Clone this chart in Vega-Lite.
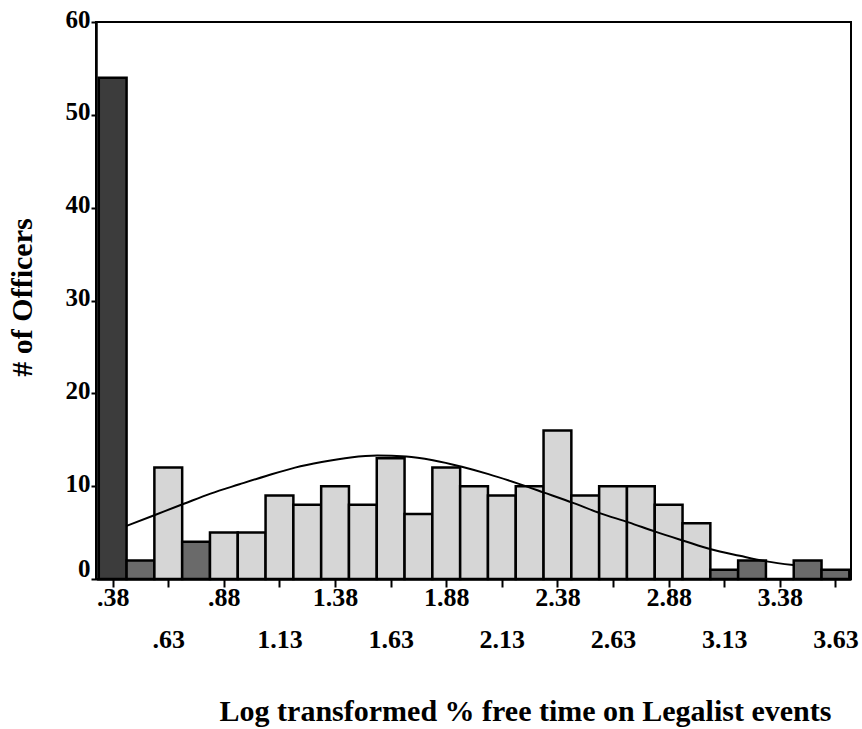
{
  "$schema": "https://vega.github.io/schema/vega-lite/v6.json",
  "width": 755,
  "height": 557,
  "autosize": {"type": "none"},
  "padding": {"left": 96, "top": 22, "right": 11, "bottom": 150},
  "background": "white",
  "config": {"view": {"stroke": "black", "strokeWidth": 2}, "font": "Liberation Serif"},
  "datasets": {
    "bins": [
      {"bin_start": 0.3175, "bin_end": 0.4425, "count": 54},
      {"bin_start": 0.4425, "bin_end": 0.5675, "count": 2},
      {"bin_start": 0.5675, "bin_end": 0.6925, "count": 12},
      {"bin_start": 0.6925, "bin_end": 0.8175, "count": 4},
      {"bin_start": 0.8175, "bin_end": 0.9425, "count": 5},
      {"bin_start": 0.9425, "bin_end": 1.0675, "count": 5},
      {"bin_start": 1.0675, "bin_end": 1.1925, "count": 9},
      {"bin_start": 1.1925, "bin_end": 1.3175, "count": 8},
      {"bin_start": 1.3175, "bin_end": 1.4425, "count": 10},
      {"bin_start": 1.4425, "bin_end": 1.5675, "count": 8},
      {"bin_start": 1.5675, "bin_end": 1.6925, "count": 13},
      {"bin_start": 1.6925, "bin_end": 1.8175, "count": 7},
      {"bin_start": 1.8175, "bin_end": 1.9425, "count": 12},
      {"bin_start": 1.9425, "bin_end": 2.0675, "count": 10},
      {"bin_start": 2.0675, "bin_end": 2.1925, "count": 9},
      {"bin_start": 2.1925, "bin_end": 2.3175, "count": 10},
      {"bin_start": 2.3175, "bin_end": 2.4425, "count": 16},
      {"bin_start": 2.4425, "bin_end": 2.5675, "count": 9},
      {"bin_start": 2.5675, "bin_end": 2.6925, "count": 10},
      {"bin_start": 2.6925, "bin_end": 2.8175, "count": 10},
      {"bin_start": 2.8175, "bin_end": 2.9425, "count": 8},
      {"bin_start": 2.9425, "bin_end": 3.0675, "count": 6},
      {"bin_start": 3.0675, "bin_end": 3.1925, "count": 1},
      {"bin_start": 3.1925, "bin_end": 3.3175, "count": 2},
      {"bin_start": 3.3175, "bin_end": 3.4425, "count": 0},
      {"bin_start": 3.4425, "bin_end": 3.5675, "count": 2},
      {"bin_start": 3.5675, "bin_end": 3.6925, "count": 1}
    ],
    "curve": [
      {"x": 0.44, "y": 5.7},
      {"x": 0.57, "y": 6.9},
      {"x": 0.70, "y": 8.1},
      {"x": 0.82, "y": 9.2},
      {"x": 0.95, "y": 10.2},
      {"x": 1.07, "y": 11.1},
      {"x": 1.20, "y": 12.0},
      {"x": 1.32, "y": 12.6},
      {"x": 1.45, "y": 13.1},
      {"x": 1.57, "y": 13.3},
      {"x": 1.70, "y": 13.2},
      {"x": 1.82, "y": 12.8},
      {"x": 1.95, "y": 12.1},
      {"x": 2.07, "y": 11.3},
      {"x": 2.20, "y": 10.3},
      {"x": 2.32, "y": 9.3},
      {"x": 2.45, "y": 8.2},
      {"x": 2.57, "y": 7.1},
      {"x": 2.70, "y": 6.1},
      {"x": 2.82, "y": 5.1},
      {"x": 2.95, "y": 4.1},
      {"x": 3.07, "y": 3.2},
      {"x": 3.20, "y": 2.5},
      {"x": 3.32, "y": 1.9},
      {"x": 3.44, "y": 1.5}
    ]
  },
  "layer": [
    {
      "data": {"name": "bins"},
      "mark": {"type": "bar", "stroke": "black", "strokeWidth": 2.5},
      "encoding": {
        "x": {
          "field": "bin_start",
          "type": "quantitative",
          "scale": {"domain": [0.305, 3.7], "nice": false, "zero": false},
          "axis": {
            "title": "Log transformed % free time on Legalist events",
            "values": [0.38, 0.63, 0.88, 1.13, 1.38, 1.63, 1.88, 2.13, 2.38, 2.63, 2.88, 3.13, 3.38, 3.63],
            "labelExpr": "datum.value < 1 ? substring(format(datum.value, '.2f'), 1) : format(datum.value, '.2f')",
            "labelPadding": {"condition": {"test": "indexof([0.63, 1.13, 1.63, 2.13, 2.63, 3.13, 3.63], datum.value) >= 0", "value": 52}, "value": 10},
            "tickSize": 8,
            "tickWidth": 2,
            "tickColor": "black",
            "domainColor": "black",
            "domainWidth": 2.5,
            "grid": false,
            "labelFont": "Liberation Serif",
            "labelFontSize": 26,
            "labelFontWeight": "bold",
            "labelColor": "black",
            "labelBaseline": "middle",
            "labelFlush": false,
            "labelOverlap": false,
            "titleFont": "Liberation Serif",
            "titleFontSize": 30,
            "titleFontWeight": "bold",
            "titleColor": "black",
            "titleX": 429,
            "titleY": 141,
            "titleAlign": "center",
            "titleBaseline": "alphabetic"
          }
        },
        "x2": {"field": "bin_end"},
        "y": {
          "field": "count",
          "type": "quantitative",
          "scale": {"domain": [0, 60], "nice": false},
          "axis": {
            "title": "# of Officers",
            "values": [0, 10, 20, 30, 40, 50, 60],
            "tickSize": 5,
            "tickWidth": 2,
            "tickColor": "black",
            "domainColor": "black",
            "domainWidth": 2.5,
            "grid": false,
            "labelFont": "Liberation Serif",
            "labelFontSize": 25,
            "labelFontWeight": "bold",
            "labelColor": "black",
            "labelPadding": 1,
            "labelFlush": false,
            "labelOverlap": false,
            "labelOffset": {"condition": {"test": "datum.value == 0", "value": -11}, "value": -3},
            "titleFont": "Liberation Serif",
            "titleFontSize": 30,
            "titleFontWeight": "bold",
            "titleColor": "black",
            "titleX": -74,
            "titleY": 275,
            "titleAlign": "center",
            "titleBaseline": "middle"
          }
        },
        "y2": {"datum": 0},
        "fill": {
          "condition": [
            {"test": "datum.count >= 50", "value": "#3c3c3c"},
            {"test": "datum.count <= 4", "value": "#6a6a6a"}
          ],
          "value": "#d6d6d6"
        }
      }
    },
    {
      "data": {"name": "curve"},
      "mark": {"type": "line", "color": "black", "strokeWidth": 2, "interpolate": "monotone"},
      "encoding": {
        "x": {"field": "x", "type": "quantitative"},
        "y": {"field": "y", "type": "quantitative"}
      }
    }
  ]
}
